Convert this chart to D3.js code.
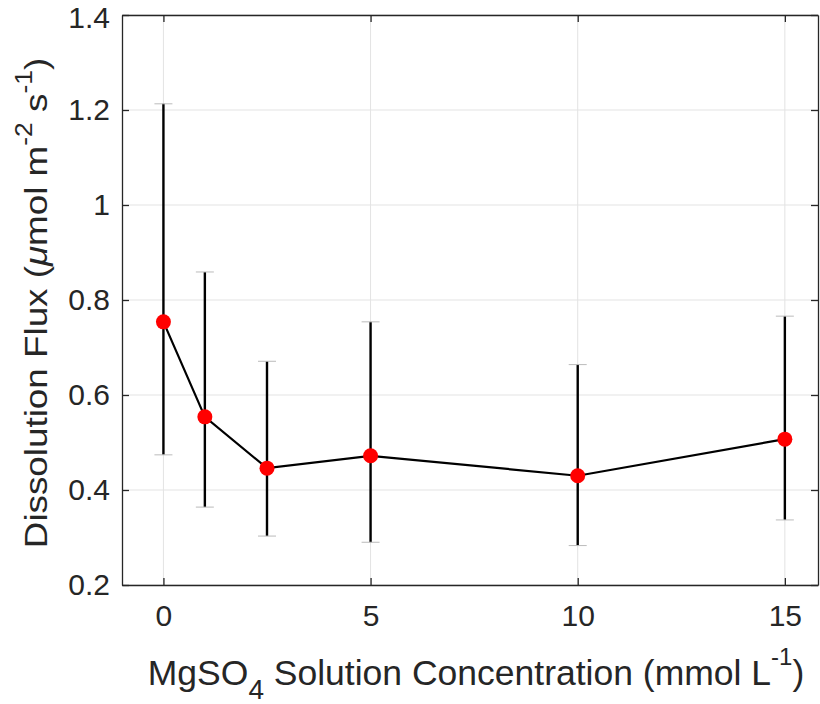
<!DOCTYPE html>
<html>
<head>
<meta charset="utf-8">
<script src="https://cdn.jsdelivr.net/npm/d3@7"></script>
<style>
  body { margin: 0; background: #fff; }
  text { font-family: "Liberation Sans", Arial, sans-serif; fill: #262626; }
</style>
</head>
<body>
<div id="chart"></div>
<script>
// data
const conc = [0, 1, 2.5, 5, 10, 15];
const flux = [0.754, 0.554, 0.446, 0.472, 0.43, 0.507];
const fluxLow = [0.474, 0.364, 0.303, 0.29, 0.283, 0.337];
const fluxHigh = [1.213, 0.859, 0.671, 0.754, 0.664, 0.766];
const xTicks = [0, 5, 10, 15];
const yTicks = [0.2, 0.4, 0.6, 0.8, 1.0, 1.2, 1.4];
const yTickLabels = ["0.2", "0.4", "0.6", "0.8", "1", "1.2", "1.4"];

const width = 820, height = 704;
const mLeft = 122, mRight = 818, mTop = 15, mBottom = 585;
const axisColor = "#262626";

const svg = d3.select("#chart").append("svg")
    .attr("width", width)
    .attr("height", height);

const x = d3.scaleLinear().domain([-1, 15.8]).range([mLeft, mRight]);
const y = d3.scaleLinear().domain([0.2, 1.4]).range([mBottom, mTop]);

// grid
const grid = svg.append("g");
grid.selectAll(".gx").data(xTicks).enter().append("line")
    .attr("x1", d => x(d)).attr("x2", d => x(d))
    .attr("y1", mTop).attr("y2", mBottom)
    .attr("stroke", "#e3e3e3").attr("stroke-width", 1);
grid.selectAll(".gy").data(yTicks).enter().append("line")
    .attr("x1", mLeft).attr("x2", mRight)
    .attr("y1", d => y(d)).attr("y2", d => y(d))
    .attr("stroke", "#e3e3e3").attr("stroke-width", 1);

// axes (ticks inside, box on)
const xAxis = svg.append("g").attr("transform", `translate(0,${mBottom})`)
    .call(d3.axisBottom(x).tickValues(xTicks).tickSizeInner(-7).tickSizeOuter(0).tickPadding(20));
const xAxisTop = svg.append("g").attr("transform", `translate(0,${mTop})`)
    .call(d3.axisTop(x).tickValues(xTicks).tickSizeInner(-7).tickSizeOuter(0).tickFormat(""));
const yAxis = svg.append("g").attr("transform", `translate(${mLeft},0)`)
    .call(d3.axisLeft(y).tickValues(yTicks).tickSizeInner(-7).tickSizeOuter(0).tickPadding(12)
        .tickFormat((d, i) => yTickLabels[i]));
const yAxisRight = svg.append("g").attr("transform", `translate(${mRight},0)`)
    .call(d3.axisRight(y).tickValues(yTicks).tickSizeInner(-7).tickSizeOuter(0).tickFormat(""));

[xAxis, xAxisTop, yAxis, yAxisRight].forEach(a => {
    a.select(".domain").attr("stroke", axisColor).attr("stroke-width", 1.3);
    a.selectAll(".tick line").attr("stroke", axisColor).attr("stroke-width", 1.3);
    a.selectAll("text").attr("font-size", 30).attr("fill", axisColor)
        .style("font-family", "'Liberation Sans', Arial, sans-serif");
});
xAxis.selectAll("text").attr("dy", "0.71em");
yAxis.select(".tick:last-of-type text").attr("dy", "0.4em");

// error bars
const eb = svg.append("g");
eb.selectAll(".bar").data(conc).enter().append("line")
    .attr("x1", d => x(d)).attr("x2", d => x(d))
    .attr("y1", (d, i) => y(fluxLow[i])).attr("y2", (d, i) => y(fluxHigh[i]))
    .attr("stroke", "#000").attr("stroke-width", 2.4);
eb.selectAll(".capl").data(conc).enter().append("line")
    .attr("x1", d => x(d) - 9).attr("x2", d => x(d) + 9)
    .attr("y1", (d, i) => y(fluxLow[i])).attr("y2", (d, i) => y(fluxLow[i]))
    .attr("stroke", "#bbb").attr("stroke-width", 1);
eb.selectAll(".caph").data(conc).enter().append("line")
    .attr("x1", d => x(d) - 9).attr("x2", d => x(d) + 9)
    .attr("y1", (d, i) => y(fluxHigh[i])).attr("y2", (d, i) => y(fluxHigh[i]))
    .attr("stroke", "#bbb").attr("stroke-width", 1);

// line
const line = d3.line().x(d => x(d[0])).y(d => y(d[1]));
svg.append("path")
    .datum(conc.map((c, i) => [c, flux[i]]))
    .attr("d", line)
    .attr("fill", "none")
    .attr("stroke", "#000")
    .attr("stroke-width", 2.2);

// markers
svg.selectAll(".pt").data(conc).enter().append("circle")
    .attr("cx", d => x(d))
    .attr("cy", (d, i) => y(flux[i]))
    .attr("r", 7.5)
    .attr("fill", "#ff0000");

// x label
const xl = svg.append("text")
    .attr("x", 476)
    .attr("y", 685)
    .attr("text-anchor", "middle")
    .attr("font-size", 35.5);
xl.append("tspan").text("MgSO");
xl.append("tspan").attr("dy", 14).attr("font-size", 28).text("4");
xl.append("tspan").attr("dy", -14).text(" Solution Concentration (mmol L");
xl.append("tspan").attr("dy", -20).attr("font-size", 24).text("-1");
xl.append("tspan").attr("dy", 20).text(")");

// y label
const yl = svg.append("text")
    .attr("transform", `translate(47,303) rotate(-90) scale(1.15,1)`)
    .attr("text-anchor", "middle")
    .attr("font-size", 32);
yl.append("tspan").text("Dissolution Flux (");
yl.append("tspan").attr("font-style", "italic").text("μ");
yl.append("tspan").text("mol m");
yl.append("tspan").attr("dy", -15).attr("font-size", 23).text("-2");
yl.append("tspan").attr("dy", 15).text(" s");
yl.append("tspan").attr("dy", -15).attr("font-size", 23).text("-1");
yl.append("tspan").attr("dy", 15).text(")");
</script>
</body>
</html>
